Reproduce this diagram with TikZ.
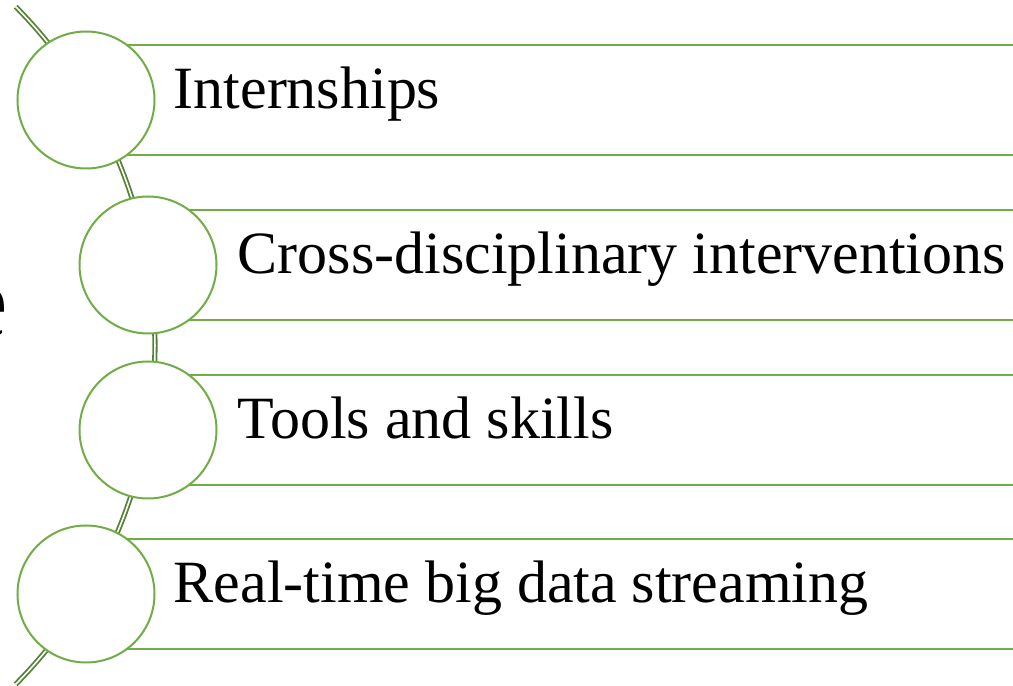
\documentclass[tikz,border=0pt]{standalone}
\usepackage{fontspec}
\setmainfont{Liberation Serif}
\usetikzlibrary{positioning}
\definecolor{leaf}{HTML}{70AD47}
\definecolor{stem}{HTML}{548235}
\begin{document}
\begin{tikzpicture}[x=1pt, y=1pt,
    bubble/.style={circle, draw=leaf, line width=2pt, fill=white, minimum size=137pt, inner sep=0pt},
    band/.style={draw=leaf, line width=2.6pt},
    itemtext/.style={font=\fontsize{60}{70}\selectfont, inner sep=0pt, text height=30pt, text depth=12pt},
    stemline/.style={draw=stem, line width=1.8pt, double=white, double distance=1.6pt}]
	\useasboundingbox (0,0) rectangle (1013,686);
	\clip (0,0) rectangle (1013,686);
	\node[anchor=base east, inner sep=0pt, font=\fontsize{105}{110}\selectfont] (title) at (8,349) {e};
	\draw[stemline] (-326.7,340.5) ++(44.7:481.7) arc[start angle=44.7, end angle=-44.7, radius=481.7];
	\node[bubble] (c1) at (86,586) {};
	\node[bubble] (c2) at (148,421) {};
	\node[bubble] (c3) at (148,256) {};
	\node[bubble] (c4) at (86,92) {};
	\foreach \c in {c1,c2,c3,c4} {
		\draw[band] ([shift={(40.8,55)}]\c.center) -- ++(1000,0);
		\draw[band] ([shift={(40.8,-55)}]\c.center) -- ++(1000,0);
	}
	\node[itemtext, right=18pt of c1] (t1) {Internships};
	\node[itemtext, right=20pt of c2] (t2) {Cross-disciplinary interventions};
	\node[itemtext, right=20pt of c3] (t3) {Tools and skills};
	\node[itemtext, right=18pt of c4] (t4) {Real-time big data streaming};
\end{tikzpicture}
\end{document}
